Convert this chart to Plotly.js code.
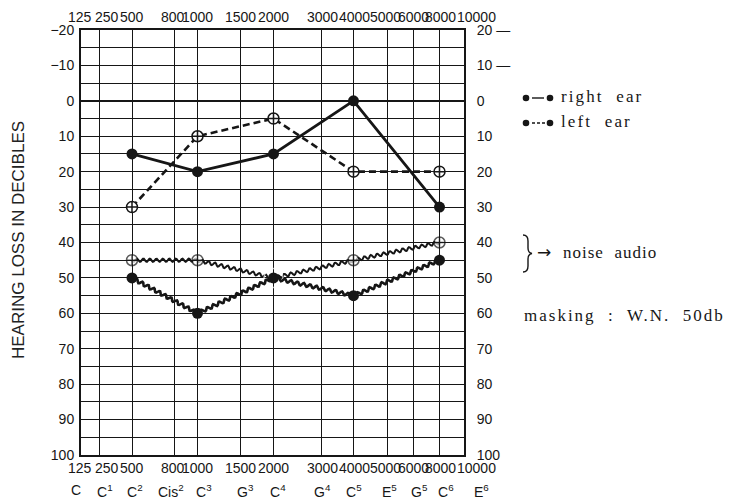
<!DOCTYPE html>
<html>
<head>
<meta charset="utf-8">
<script src="https://cdn.plot.ly/plotly-3.0.1.min.js"></script>
<style>
html,body{margin:0;padding:0;background:#fff;}
#chart{width:732px;height:498px;}
</style>
</head>
<body>
<div id="chart"></div>
<script>
// ---- data ----
const freqs = [500, 1000, 2000, 4000, 8000];
const rightEar = [15, 20, 15, 0, 30];
const leftEar = [30, 10, 5, 20, 20];
const noiseOpen = [45, 45, 50, 45, 40];
const noiseFilled = [50, 60, 50, 55, 45];

// ---- frequency scale printed on the audiogram form (non-uniform) ----
const formFreqs = [125, 250, 500, 800, 1000, 1500, 2000, 3000, 4000, 5000, 6000, 8000, 10000];
const formScale = [0, 18, 51, 93, 116.5, 159, 192.5, 240.5, 272.5, 306, 332, 358.5, 383];
const freqLabels = ['125', '250', '500', '800', '1000', '1500', '2000', '3000', '4000', '5000', '6000', '8000', '10000'];
const noteLabels = ['C', 'C<sup>1</sup>', 'C<sup>2</sup>', 'Cis<sup>2</sup>', 'C<sup>3</sup>', 'G<sup>3</sup>', 'C<sup>4</sup>', 'G<sup>4</sup>', 'C<sup>5</sup>', 'E<sup>5</sup>', 'G<sup>5</sup>', 'C<sup>6</sup>', 'E<sup>6</sup>'];
// printed label offsets (px) from their grid lines
const freqShift = [-1, 8, 0, -1, 0, 0, 0, 1, 1, -2, 0, 1, 12];
const noteShift = [-5, 6, 3, -3, 6, 5, 4, 1, 0, 2, 6, 6, 17];

// ---- dB scale ----
const dbGrid = [-20, -15, -10, -5, 0, 5, 10, 15, 20, 25, 30, 35, 40, 45, 50, 55, 60, 65, 70, 75, 80, 85, 90, 95, 100];
const dbLeftText = ['−20', '', '−10', '', '0', '', '10', '', '20', '', '30', '', '40', '', '50', '', '60', '', '70', '', '80', '', '90', '', '100'];
const dbTicks = [-20, -10, 0, 10, 20, 30, 40, 50, 60, 70, 80, 90, 100];
const dbRightText = ['20 —', '10 —', '0', '10', '20', '30', '40', '50', '60', '70', '80', '90', '100'];

const fx = f => formScale[formFreqs.indexOf(f)];
const xs = freqs.map(fx);

const INK = '#161616';
const sans = '"Liberation Sans Narrow", "Liberation Sans", Arial, sans-serif';
const sansW = '"Liberation Sans", Arial, sans-serif';
const serif = '"Liberation Serif", "DejaVu Serif", serif';

const traces = [
  { // left ear
    x: xs, y: leftEar, mode: 'lines+markers', name: 'left ear',
    line: {color: INK, width: 2.6, dash: '7px,4px'},
    marker: {symbol: 'circle-cross', size: 11, color: '#fff', line: {color: INK, width: 1.5}}
  },
  { // right ear
    x: xs, y: rightEar, mode: 'lines+markers', name: 'right ear',
    line: {color: INK, width: 2.8},
    marker: {symbol: 'circle', size: 11, color: INK}
  },
  { // noise audio, open
    x: xs, y: noiseOpen, mode: 'lines+markers', name: 'noise open',
    line: {color: INK, width: 2},
    marker: {symbol: ['circle-cross', 'circle-cross', 'circle-open', 'circle-cross', 'circle-cross'],
             size: [11, 11, 19, 11, 11], color: '#fff', line: {color: INK, width: 1.5}}
  },
  { // noise audio, filled
    x: xs, y: noiseFilled, mode: 'lines+markers', name: 'noise filled',
    line: {color: INK, width: 2.6},
    marker: {symbol: 'circle', size: 11, color: INK}
  },
  { // carrier for the right axis
    x: xs, y: rightEar, yaxis: 'y2', mode: 'none', hoverinfo: 'skip', showlegend: false
  }
];

const px = p => (p - 81) / 383;
const py = p => (455 - p) / 425;

const annotations = [
  {text: 'HEARING LOSS IN DECIBLES', xref: 'paper', yref: 'paper', x: px(18), y: py(240), xanchor: 'center', yanchor: 'middle',
   textangle: -90, showarrow: false, font: {family: sansW, size: 17, color: '#222'}},
  {text: 'right\u00a0 ear', xref: 'paper', yref: 'paper', x: px(559), y: py(97), align: 'left',
   xanchor: 'left', yanchor: 'middle', showarrow: false, font: {family: serif, size: 17, color: INK}},
  {text: 'left\u00a0 ear', xref: 'paper', yref: 'paper', x: px(559), y: py(122),
   align: 'left', xanchor: 'left', yanchor: 'middle', showarrow: false, font: {family: serif, size: 17, color: INK}},
  {text: '→', xref: 'paper', yref: 'paper', x: px(535), y: py(252),
   align: 'left', xanchor: 'left', yanchor: 'middle', showarrow: false, font: {family: '"DejaVu Sans", sans-serif', size: 17, color: INK}},
  {text: 'noise\u00a0 audio', xref: 'paper', yref: 'paper', x: px(561), y: py(252),
   align: 'left', xanchor: 'left', yanchor: 'middle', showarrow: false, font: {family: serif, size: 17, color: INK}},
  {text: 'masking\u00a0 :\u00a0 W.N.\u00a0 50db', xref: 'paper', yref: 'paper', x: px(522), y: py(316), align: 'left',
   xanchor: 'left', yanchor: 'middle', showarrow: false, font: {family: serif, size: 17, color: INK}}
];
const spacing = {1: '2.1px', 2: '2.1px', 4: '1px', 5: '2px'};
freqLabels.forEach((t, i) => {
  annotations.push({text: t, xref: 'x', yref: 'paper', x: formScale[i], xshift: freqShift[i], y: 1, yanchor: 'bottom', yshift: 3,
    showarrow: false, font: {family: sans, size: 14, color: INK}});
  annotations.push({text: t, xref: 'x', yref: 'paper', x: formScale[i], xshift: freqShift[i], y: 0, yanchor: 'top', yshift: -3,
    showarrow: false, font: {family: sans, size: 14, color: INK}});
});
noteLabels.forEach((t, i) => {
  annotations.push({text: t, xref: 'x', yref: 'paper', x: formScale[i], xshift: noteShift[i], y: 0, yanchor: 'top', yshift: -25,
    showarrow: false, font: {family: sansW, size: 14, color: INK}});
});

const bracePath = `M ${px(523)},${py(235)} Q ${px(528)},${py(235)} ${px(528)},${py(241)} L ${px(528)},${py(248)} ` +
  `Q ${px(528)},${py(253)} ${px(532)},${py(253.5)} Q ${px(528)},${py(254)} ${px(528)},${py(259)} ` +
  `L ${px(528)},${py(266)} Q ${px(528)},${py(272)} ${px(523)},${py(272)}`;
const dot = (cx, cy) => ({type: 'circle', xref: 'paper', yref: 'paper', x0: px(cx - 3.3), x1: px(cx + 3.3),
  y0: py(cy + 3.3), y1: py(cy - 3.3), fillcolor: INK, line: {width: 0}});

const layout = {
  width: 732, height: 498,
  margin: {l: 81, r: 268, t: 30, b: 43},
  paper_bgcolor: '#fff', plot_bgcolor: '#fff',
  showlegend: false,
  xaxis: {range: [0, 383], tickvals: formScale, showticklabels: false, showgrid: true, gridcolor: INK, gridwidth: 1,
          zeroline: false, showline: true, mirror: true, linecolor: INK, linewidth: 2, ticks: '', fixedrange: true},
  yaxis: {range: [100, -20], tickvals: dbGrid, ticktext: dbLeftText, showgrid: true, gridcolor: INK, gridwidth: 1,
          zeroline: true, zerolinecolor: INK, zerolinewidth: 2.2, showline: true, linecolor: INK, linewidth: 2, ticks: '',
          ticklabelstandoff: 2, tickfont: {family: sans, size: 14, color: INK}},
  yaxis2: {range: [100, -20], overlaying: 'y', side: 'right', tickvals: dbTicks, ticktext: dbRightText, showgrid: false,
           zeroline: false, showline: true, linecolor: INK, linewidth: 2, ticks: '',
           ticklabelstandoff: 8, tickfont: {family: sans, size: 14, color: INK}},
  shapes: [
    {type: 'path', xref: 'paper', yref: 'paper', path: bracePath, line: {color: INK, width: 1.4}},
    dot(526, 98), dot(550, 98), dot(526, 123), dot(550, 123),
    {type: 'line', xref: 'paper', yref: 'paper', x0: px(532), x1: px(544), y0: py(98), y1: py(98), line: {color: INK, width: 1.4}},
    {type: 'line', xref: 'paper', yref: 'paper', x0: px(532), x1: px(545), y0: py(123), y1: py(123), line: {color: INK, width: 1.6, dash: '3px,2px'}}
  ],
  annotations: annotations
};

Plotly.newPlot('chart', traces, layout, {staticPlot: true, displayModeBar: false}).then(gd => {
  // wavy stroke style for the two noise-audio lines
  const lines = gd.querySelectorAll('.scatterlayer .trace .js-line');
  [2, 3].forEach(k => {
    const path = lines[k];
    if (!path) return;
    const d = path.getAttribute('d');
    const pts = (d.match(/-?\d+(\.\d+)?,-?\d+(\.\d+)?/g) || []).map(s => s.split(',').map(Number));
    if (pts.length < 2) return;
    const amp = 1.6, per = 6.5;
    let out = 'M' + pts[0][0] + ',' + pts[0][1];
    for (let i = 1; i < pts.length; i++) {
      const [x0, y0] = pts[i - 1], [x1, y1] = pts[i];
      const L = Math.hypot(x1 - x0, y1 - y0);
      const ux = (x1 - x0) / L, uy = (y1 - y0) / L;
      const nx = -uy, ny = ux;
      const n = Math.max(2, Math.round(L));
      for (let j = 1; j <= n; j++) {
        const s = L * j / n;
        const off = amp * Math.sin(2 * Math.PI * s / per) * (j === n ? 0 : 1);
        out += 'L' + (x0 + ux * s + nx * off).toFixed(2) + ',' + (y0 + uy * s + ny * off).toFixed(2);
      }
    }
    path.setAttribute('d', out);
  });
  // letter spacing for the serif captions
  gd.querySelectorAll('.annotation').forEach(a => {
    const idx = a.getAttribute('data-index');
    if (spacing[idx]) {
      const t = a.querySelector('text');
      if (t) t.style.letterSpacing = spacing[idx];
    }
  });
});
</script>
</body>
</html>
